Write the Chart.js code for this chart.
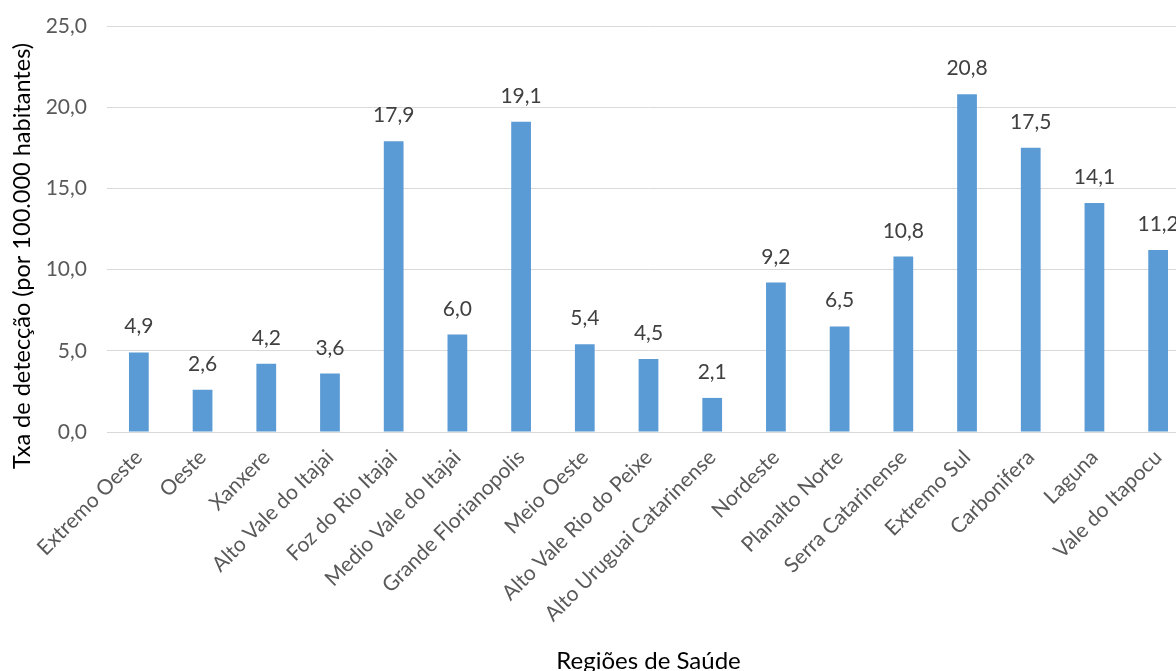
<!DOCTYPE html>
<html>
<head>
<meta charset="utf-8">
<script src="https://cdn.jsdelivr.net/npm/chart.js@4/dist/chart.umd.min.js"></script>
<style>
  html, body { margin: 0; padding: 0; background: #fff; overflow: hidden; }
  #wrap { position: relative; width: 1200px; height: 680px; }
</style>
</head>
<body>
<div id="wrap"><canvas id="c"></canvas></div>
<script>
// Regiões de Saúde (Santa Catarina) and detection rate per 100.000 inhabitants
const regions = [
  'Extremo Oeste', 'Oeste', 'Xanxere', 'Alto Vale do Itajai', 'Foz do Rio Itajai',
  'Medio Vale do Itajai', 'Grande Florianopolis', 'Meio Oeste', 'Alto Vale Rio do Peixe',
  'Alto Uruguai Catarinense', 'Nordeste', 'Planalto Norte', 'Serra Catarinense',
  'Extremo Sul', 'Carbonifera', 'Laguna', 'Vale do Itapocu'
];
const rates = [4.9, 2.6, 4.2, 3.6, 17.9, 6.0, 19.1, 5.4, 4.5, 2.1, 9.2, 6.5, 10.8, 20.8, 17.5, 14.1, 11.2];
const yTicks = [0, 5, 10, 15, 20, 25];
const yTitle = 'Txa de detecção (por 100.000 habitantes)';
const xTitle = 'Regiões de Saúde';

const fmt = v => Number(v).toFixed(1).replace('.', ',');
const FONT = 'Lato, "Open Sans", sans-serif';

// Draws the value above each bar
const valueLabels = {
  id: 'valueLabels',
  afterDatasetsDraw(chart) {
    const ctx = chart.ctx;
    const meta = chart.getDatasetMeta(0);
    ctx.save();
    ctx.font = '21px ' + FONT;
    ctx.fillStyle = '#404040';
    ctx.textAlign = 'center';
    ctx.textBaseline = 'alphabetic';
    meta.data.forEach((bar, i) => {
      ctx.fillText(fmt(chart.data.datasets[0].data[i]), bar.x, bar.y - 19);
    });
    ctx.restore();
  }
};

// Vertical axis title, placed along the left edge
const sideTitle = {
  id: 'sideTitle',
  afterDraw(chart) {
    const ctx = chart.ctx;
    ctx.save();
    ctx.translate(22, 256);
    ctx.rotate(-Math.PI / 2);
    ctx.font = '23.5px ' + FONT;
    ctx.fillStyle = '#000';
    ctx.textAlign = 'center';
    ctx.textBaseline = 'middle';
    ctx.fillText(yTitle, 0, 0);
    ctx.restore();
  }
};

new Chart(document.getElementById('c'), {
  type: 'bar',
  data: {
    labels: regions,
    datasets: [{
      data: rates,
      backgroundColor: '#5b9bd5',
      borderWidth: 0,
      barPercentage: 0.62,
      categoryPercentage: 0.5
    }]
  },
  options: {
    responsive: true,
    maintainAspectRatio: false,
    animation: false,
    layout: { autoPadding: false, padding: { top: 26, left: 0, right: 10, bottom: 0 } },
    plugins: { legend: { display: false }, tooltip: { enabled: false } },
    scales: {
      x: {
        afterFit(scale) { scale.height = 248; },
        grid: { display: false },
        border: { display: true, color: '#d9d9d9', width: 1 },
        ticks: {
          color: '#595959',
          font: { family: FONT, size: 21 },
          minRotation: 45,
          maxRotation: 45,
          autoSkip: false,
          padding: 5
        },
        title: {
          display: true,
          text: xTitle,
          color: '#000',
          font: { family: FONT, size: 24 },
          padding: { top: 0, bottom: 4 }
        }
      },
      y: {
        min: 0,
        max: 25,
        afterFit(scale) {
          scale.width = 107;
          scale.paddingTop = 0;
          scale.paddingBottom = 0;
        },
        afterBuildTicks(scale) { scale.ticks = yTicks.map(v => ({ value: v })); },
        grid: { color: '#d9d9d9', drawTicks: false },
        border: { display: false },
        ticks: {
          color: '#595959',
          font: { family: FONT, size: 21 },
          padding: 20,
          callback: v => fmt(v)
        }
      }
    }
  },
  plugins: [valueLabels, sideTitle]
});
</script>
</body>
</html>
